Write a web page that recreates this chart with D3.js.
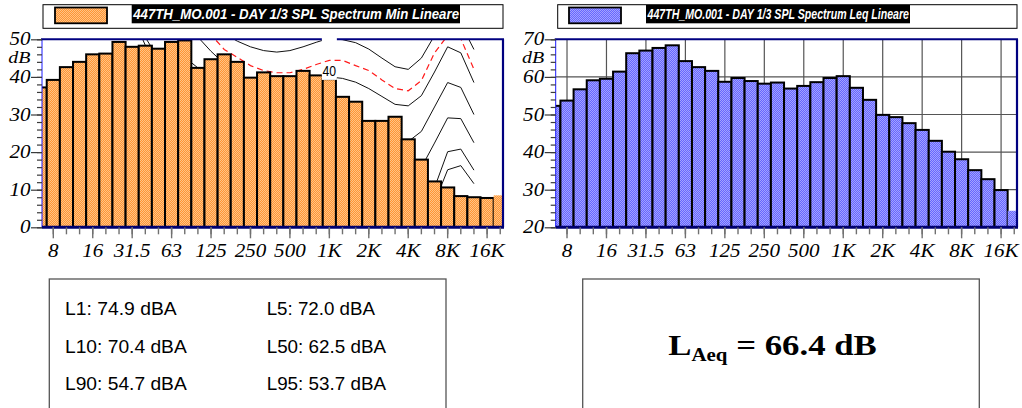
<!DOCTYPE html>
<html><head><meta charset="utf-8">
<script src="https://cdn.jsdelivr.net/npm/d3@7/dist/d3.min.js"></script>
<style>
body{margin:0;background:#fff}svg{display:block}
.serif{font-family:'Liberation Serif','Times New Roman',serif}
.sans{font-family:'Liberation Sans',Arial,sans-serif}
</style>
</head><body>
<svg id="c" width="1022" height="408"></svg>
<script>
// ---------- data ----------
const bandHz = [6.3,8,10,12.5,16,20,25,31.5,40,50,63,80,100,125,160,200,250,315,400,500,630,800,1000,1250,1600,2000,2500,3150,4000,5000,6300,8000,10000,12500,16000,20000];
const tickHz = [8,16,31.5,63,125,250,500,1000,2000,4000,8000,16000];
const tickLabels = ["8","16","31.5","63","125","250","500","1K","2K","4K","8K","16K"];

const minSpl = [37.2,39.2,42.6,44.0,46.0,46.2,49.3,48.0,48.3,47.5,49.3,49.7,42.4,44.7,46.0,44.0,39.8,41.2,40.2,40.2,41.6,40.4,39.4,34.7,33.4,28.3,28.3,29.4,23.4,18.0,12.2,10.6,8.3,8.0,7.8,8.5];
const leqSpl = [52.3,53.7,56.7,59.1,59.5,61.4,66.3,67.0,67.7,68.4,64.2,62.6,61.6,58.7,59.7,58.9,58.2,58.5,56.9,57.6,58.6,59.7,60.2,57.1,53.9,49.9,49.3,47.7,45.9,43.0,40.1,38.1,35.2,32.8,29.9,24.4];

// equal-loudness style contours drawn on the Min chart (null = not drawn)
const contourHz = [31.5,40,50,63,80,100,125,160,200,250,315,400,500,630,800,1000,1250,1600,2000,2500,3150,4000,5000,6300,8000,10000,12500];
const contourThreshold = [56.3,48.4,41.7,35.5,29.8,25.1,20.7,16.8,13.8,11.2,8.9,7.2,6.0,5.0,4.4,4.2,3.7,2.6,1.0,-1.2,-3.6,-3.9,-1.1,6.6,15.3,16.4,11.6];
const contour10 = [null,50.5,44.9,39.5,34.5,30.5,27,24,21.5,19.5,17.5,15.5,14,12.5,11.2,10,9.5,8.5,6.5,4,1.5,1,3.5,10.5,20.1,20.8,15.2];
const contour20 = [null,null,46,42,38,35,32,29.5,27.5,26,24.5,23,22,21,20.5,20,19.5,18.5,17,15,13.5,13,15.9,22.4,29.1,28.9,22.5];
const contour30 = [null,null,null,47.5,45.2,42.4,40,38,36.5,35,33.5,32.5,31.5,31,30.5,30,30,29,27.5,25.5,23.5,22.8,25.5,32,38.5,37.2,30];
const contour40 = [null,null,null,null,56,50.6,46.8,43.5,40.5,39.0,39.5,39.5,39.5,39.5,39.5,40,39.6,38.6,36.9,34.8,32.7,32.3,35.0,41.3,48.0,46.4,38.5];
const contour50 = [null,null,null,null,null,null,55,51.5,49.5,48,47,46.6,47,48,49.2,50.3,49.9,49.1,47.4,45,42.7,42,45,51,56,54.2,47.3];
const contourRed = [null,null,null,null,null,56,51.2,47.3,45.2,43,41.7,41.1,41.1,42,43.3,44.4,44.4,43,41.7,39.2,36.9,36.3,39,46.4,51,50.2,42];
const contourLabelHz = 1000;

const legendMin = "447TH_MO.001 - DAY 1/3 SPL Spectrum Min Lineare";
const legendLeq = "447TH_MO.001 - DAY 1/3 SPL Spectrum Leq Lineare";
const statRows = [["L1: 74.9 dBA","L5: 72.0 dBA"],["L10: 70.4 dBA","L50: 62.5 dBA"],["L90: 54.7 dBA","L95: 53.7 dBA"]];
const laeqValue = "66.4";

// ---------- drawing ----------
const SX = 1.14; // horizontal stretch of the original rendering
const svg = d3.select('#c');
const defs = svg.append('defs');
function pattern(id, base, dot){
  const p = defs.append('pattern').attr('id',id).attr('width',2).attr('height',2).attr('patternUnits','userSpaceOnUse');
  p.append('rect').attr('width',2).attr('height',2).attr('fill',base);
  p.append('rect').attr('width',1).attr('height',1).attr('fill',dot);
  p.append('rect').attr('x',1).attr('y',1).attr('width',1).attr('height',1).attr('fill',dot);
}
pattern('pOrange','#FF9534','#FFC385');
pattern('pBlue','#6666FF','#A2A2FF');

function sText(g, x, y, s, anchor, cls, size, opts){
  const t = g.append('text').attr('transform',`translate(${x},${y}) scale(${SX},1)`)
    .attr('text-anchor',anchor).attr('class',cls).style('font-size',size+'px').text(s);
  if(opts){ for(const k in opts) t.style(k,opts[k]); }
  return t;
}

function panel(cfg){
  const {x0,x1,y0,y1,yDomain,values,fill,id} = cfg;
  const bandW = (x1-x0)/35.07;
  const xb = d3.scaleBand().domain(bandHz).range([x0-0.64*bandW, x0-0.64*bandW+36*bandW]).padding(0);
  const xc = f => xb(f) + xb.bandwidth()/2;
  const y = d3.scaleLinear().domain(yDomain).range([y1,y0]);
  const g = svg.append('g');

  defs.append('clipPath').attr('id','clip'+id).append('rect').attr('x',x0).attr('y',y0).attr('width',x1-x0).attr('height',y1-y0);
  defs.append('clipPath').attr('id','clipL'+id).append('rect').attr('x',x0).attr('y',y0-1.5).attr('width',x1-x0).attr('height',y1-y0+1.5);

  const plot = g.append('g').attr('clip-path',`url(#clip${id})`);

  // grid
  if(cfg.grid){
    plot.selectAll('line.gv').data(tickHz).join('line').attr('class','gv')
      .attr('x1',d=>xc(d)).attr('x2',d=>xc(d)).attr('y1',y0).attr('y2',y1)
      .attr('stroke','#555').attr('stroke-width',1.2);
    plot.selectAll('line.gh').data(d3.range(yDomain[0]+10,yDomain[1],10)).join('line').attr('class','gh')
      .attr('x1',x0).attr('x2',x1).attr('y1',d=>y(d)).attr('y2',d=>y(d))
      .attr('stroke','#555').attr('stroke-width',1.2);
  }

  // contours
  if(cfg.contours){
    const line = d3.line().defined(d=>d[1]!==null).x(d=>xc(d[0])).y(d=>y(d[1]));
    cfg.contours.forEach(c=>{
      plot.append('path').datum(contourHz.map((f,i)=>[f,c.values[i]]))
        .attr('d',line).attr('fill','none')
        .attr('stroke',c.dashed?'#ff1a1a':'#111').attr('stroke-width',c.dashed?1.2:1)
        .attr('stroke-dasharray',c.dashed?'6,4':null);
    });
  }

  // bars
  plot.selectAll('rect.bar').data(values.map((v,i)=>({f:bandHz[i],v,i}))).join('rect').attr('class','bar')
    .attr('x',d=>xb(d.f)).attr('width',xb.bandwidth())
    .attr('y',d=>y(d.v)).attr('height',d=>y1-y(d.v))
    .attr('fill',`url(#${fill})`)
    .attr('stroke',d=>d.i===bandHz.length-1?'none':'#000').attr('stroke-width',2);

  // frame
  g.append('line').attr('x1',x0).attr('x2',x0).attr('y1',y0).attr('y2',y1).attr('stroke','#1a1aff').attr('stroke-width',1);
  g.append('line').attr('x1',x0-1).attr('x2',x1+1).attr('y1',y0).attr('y2',y0).attr('stroke','#000080').attr('stroke-width',2);
  g.append('line').attr('x1',x1).attr('x2',x1).attr('y1',y0).attr('y2',y1).attr('stroke','#000080').attr('stroke-width',2.2);
  g.append('line').attr('x1',x0).attr('x2',x1+1).attr('y1',y1).attr('y2',y1).attr('stroke','#000070').attr('stroke-width',3);

  // contour labels
  if(cfg.contours){
    const lg = g.append('g').attr('clip-path',`url(#clipL${id})`);
    cfg.contours.filter(c=>c.label).forEach(c=>{
      const v = c.values[contourHz.indexOf(contourLabelHz)];
      const px = xc(contourLabelHz), py = y(v);
      lg.append('rect').attr('x',px-7.5).attr('y',py-14).attr('width',15).attr('height',17).attr('fill','#fff');
      lg.append('text').attr('x',px-6.8).attr('y',py-1).attr('class','sans')
        .style('font-size','15.5px').attr('textLength',13.6).attr('lengthAdjust','spacingAndGlyphs').text(c.label);
    });
  }

  // y axis ticks
  const yMinor = d3.axisLeft(y).tickValues(d3.range(yDomain[0],yDomain[1]+0.1,2)).tickSize(5).tickFormat('');
  const yMajor = d3.axisLeft(y).tickValues(d3.range(yDomain[0],yDomain[1]+0.1,10)).tickSize(11).tickFormat('');
  [yMinor,yMajor].forEach(ax=>{
    const a = g.append('g').attr('transform',`translate(${x0},0)`).call(ax);
    a.select('.domain').remove();
    a.selectAll('line').attr('stroke','#3a3a3a').attr('stroke-width',1.2);
  });
  d3.range(yDomain[0],yDomain[1]+0.1,10).forEach(v=>{
    sText(g, x0-11.5, y(v)+6, String(v), 'end', 'serif', 18.5, {'font-style':'italic'});
  });
  sText(g, x0-11.5, 63, 'dB', 'end', 'serif', 17.5, {'font-style':'italic'});

  // x axis ticks
  const inside = bandHz.filter(f=>xc(f)>=x0-0.5 && xc(f)<=x1+0.5);
  const xMinor = d3.axisBottom(xb).tickValues(inside).tickSize(7).tickFormat('');
  const xMajor = d3.axisBottom(xb).tickValues(tickHz).tickSize(11).tickFormat('');
  [xMinor,xMajor].forEach(ax=>{
    const a = g.append('g').attr('transform',`translate(0,${y1})`).call(ax);
    a.select('.domain').remove();
    a.selectAll('line').attr('stroke','#707070').attr('stroke-width',1.4);
  });
  tickHz.forEach((f,i)=>{
    sText(g, xc(f), y1+29.4, tickLabels[i], 'middle', 'serif', 18.5, {'font-style':'italic'});
  });

  // legend
  const L = cfg.legend;
  g.append('rect').attr('x',L.boxX).attr('y',4.7).attr('width',x1-L.boxX).attr('height',23.6).attr('fill','#fff').attr('stroke','#000').attr('stroke-width',1);
  g.append('rect').attr('x',L.swX).attr('y',7.5).attr('width',52).attr('height',15.8).attr('fill',`url(#${fill})`).attr('stroke','#000').attr('stroke-width',1.8);
  g.append('rect').attr('x',L.txX).attr('y',5).attr('width',L.txW).attr('height',18.3).attr('fill','#000');
  g.append('text').attr('x',L.txX+1.5).attr('y',19.4).attr('fill','#fff').attr('class','sans')
    .style('font-weight','bold').style('font-style','italic').style('font-size','15px')
    .attr('textLength',L.txW-2.5).attr('lengthAdjust','spacingAndGlyphs').text(L.text);
}

panel({id:'L', x0:42, x1:503, y0:39.3, y1:227.3, yDomain:[0,50], values:minSpl, fill:'pOrange', grid:false,
  contours:[
    {values:contourThreshold},
    {values:contour10},
    {values:contour20},
    {values:contour30},
    {values:contour40, label:'40'},
    {values:contour50, label:'50'},
    {values:contourRed, dashed:true}
  ],
  legend:{boxX:43, swX:55, txX:131.7, txW:328.3, text:legendMin}});

panel({id:'R', x0:555.7, x1:1017, y0:39.3, y1:227.3, yDomain:[20,70], values:leqSpl, fill:'pBlue', grid:true,
  legend:{boxX:557.7, swX:569, txX:646, txW:264, text:legendLeq}});

// statistics box
const sb = svg.append('g');
sb.append('rect').attr('x',49.3).attr('y',279).attr('width',396.7).attr('height',150).attr('fill','none').attr('stroke','#555').attr('stroke-width',1.3);
const rowY = [315,353.3,390];
const colX = [65,266.7];
const colW = [[111.7,108.3],[121.7,119.3],[121.7,119.3]];
statRows.forEach((r,ri)=>r.forEach((s,ci)=>{
  sb.append('text').attr('x',colX[ci]).attr('y',rowY[ri]).attr('class','sans')
    .style('font-size','17.5px').attr('textLength',colW[ri][ci]).attr('lengthAdjust','spacingAndGlyphs').text(s);
}));

// LAeq box
const lb = svg.append('g');
lb.append('rect').attr('x',582.7).attr('y',279).attr('width',396.6).attr('height',150).attr('fill','none').attr('stroke','#555').attr('stroke-width',1.3);
const lt = lb.append('text').attr('transform',`translate(668.3,355) scale(${SX+0.02},1)`)
  .attr('class','serif').style('font-weight','bold').style('font-size','30px');
lt.append('tspan').text('L');
lt.append('tspan').style('font-size','18px').attr('dy',5.7).text('Aeq');
lt.append('tspan').attr('dy',-5.7).text(' = ' + laeqValue + ' dB');
</script>
</body></html>
